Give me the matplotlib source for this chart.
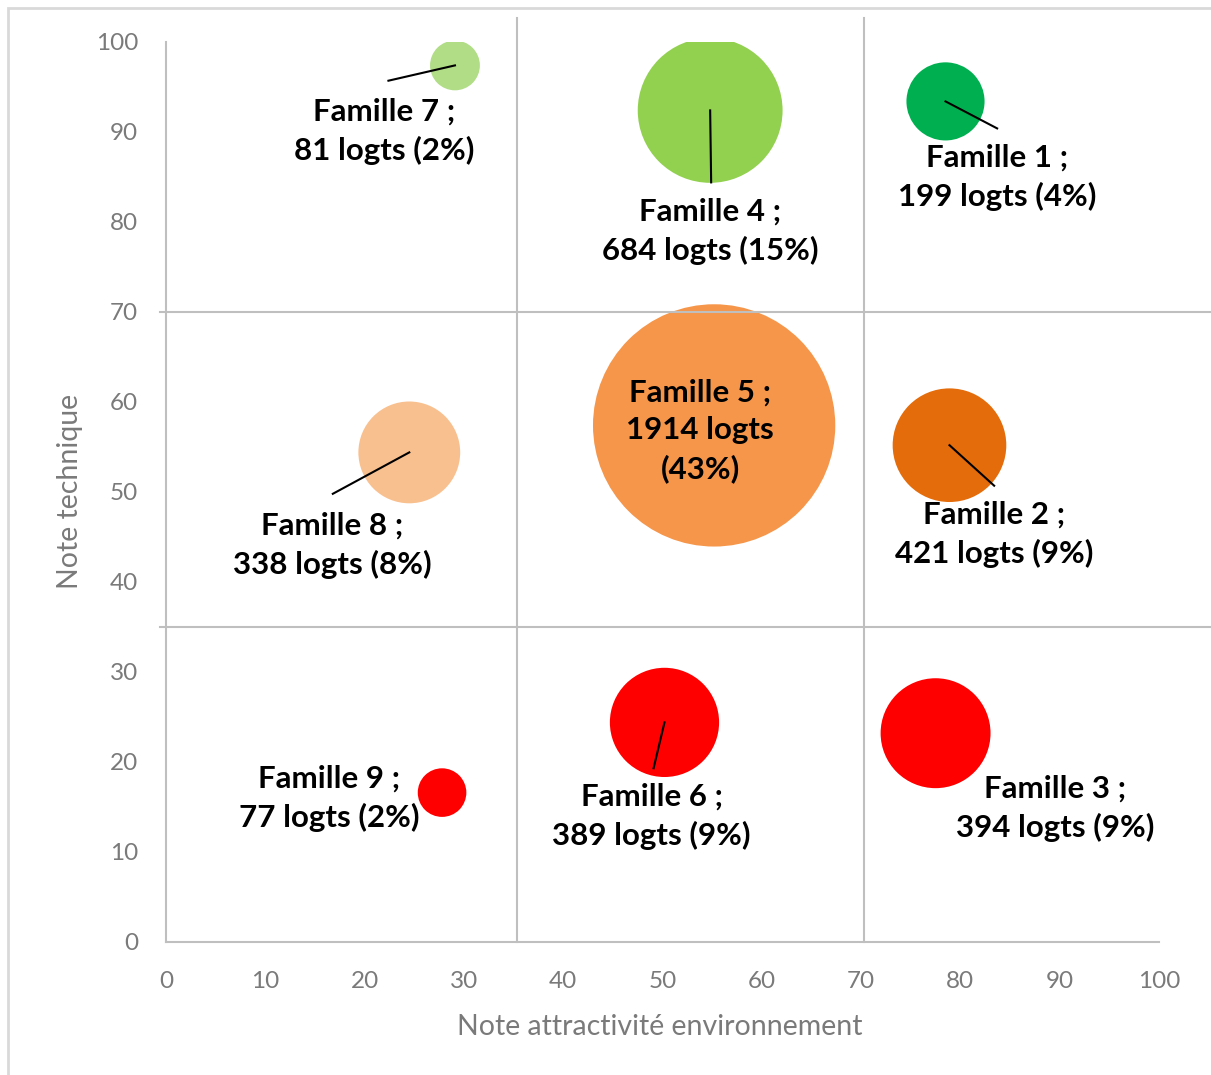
import matplotlib.pyplot as plt
from matplotlib.patches import Rectangle

# Familles de logements : note environnement, note technique, nombre de logements
familles = ["Famille 1", "Famille 2", "Famille 3", "Famille 4", "Famille 5",
            "Famille 6", "Famille 7", "Famille 8", "Famille 9"]
note_env = [78.5, 78.9, 77.5, 54.8, 55.2, 50.2, 29.1, 24.5, 27.8]
note_tech = [93.4, 55.2, 23.2, 92.4, 57.4, 24.4, 97.4, 54.4, 16.6]
logts = [199, 421, 394, 684, 1914, 389, 81, 338, 77]

couleurs = ["#00b050", "#e46c0a", "#ff0000", "#92d050", "#f5964a",
            "#ff0000", "#b0dd86", "#f9c08f", "#ff0000"]

# position des étiquettes (centre du bloc) et bout du trait de rappel
pos_label = [(83.7, 85.0), (83.4, 45.3), (89.5, 14.9), (54.8, 79.0), (53.8, 56.8),
             (48.9, 14.0), (22.0, 90.1), (16.7, 44.1), (16.4, 16.0)]
bout_trait = [(83.7, 90.4), (83.4, 50.7), None, (54.9, 84.4), None,
              (49.1, 19.3), (22.4, 95.7), (16.8, 49.8), None]

seuils = [35.3, 70.3]
gris = "#bfbfbf"
gris_txt = "#7a7a7a"

plt.rcParams['font.family'] = ['Lato', 'DejaVu Sans']

fig = plt.figure(figsize=(12.11, 10.75), dpi=100)
ax = fig.add_axes([166/1211, 133/1075, 993/1211, 900/1075])

total = sum(logts)
# aire des bulles proportionnelle au nombre de logements
ax.scatter(note_env, note_tech, s=[15.9*v for v in logts], c=couleurs,
           linewidths=0, zorder=2)

# quadrillage des seuils
ax.plot([seuils[0]]*2, [0, 102.7], color=gris, lw=1.5, clip_on=False, zorder=3)
ax.plot([seuils[1]]*2, [0, 102.7], color=gris, lw=1.5, clip_on=False, zorder=3)
ax.plot([-0.6, 105.3], [70, 70], color=gris, lw=1.5, clip_on=False, zorder=3)
ax.plot([-0.6, 105.3], [35, 35], color=gris, lw=1.5, clip_on=False, zorder=3)

for i in range(len(familles)):
    pct = round(100*logts[i]/total)
    if i == 4:
        txt = "%s ;\n%d logts\n(%d%%)" % (familles[i], logts[i], pct)
    else:
        txt = "%s ;\n%d logts (%d%%)" % (familles[i], logts[i], pct)
    lx, ly = pos_label[i]
    ax.text(lx, ly, txt, ha='center', va='center', fontsize=22.5, fontweight='bold',
            linespacing=1.42, color='black', zorder=5)
    if bout_trait[i] is not None:
        bx, by = bout_trait[i]
        ax.plot([note_env[i], bx], [note_tech[i], by], color='black', lw=1.5, zorder=4)

ax.set_xlim(0, 100)
ax.set_ylim(0, 100)
ax.set_xticks(range(0, 101, 10))
ax.set_yticks(range(0, 101, 10))
ax.tick_params(length=0, labelsize=17.5, labelcolor=gris_txt)
ax.tick_params(axis='x', pad=21)
ax.tick_params(axis='y', pad=20)
for side in ['top', 'right']:
    ax.spines[side].set_visible(False)
for side in ['left', 'bottom']:
    ax.spines[side].set_color(gris)
    ax.spines[side].set_linewidth(1.5)

ax.set_xlabel("Note attractivité environnement", fontsize=20.5, color=gris_txt)
ax.set_ylabel("Note technique", fontsize=20.5, color=gris_txt)
ax.xaxis.set_label_coords(0.4975, -0.08)
ax.yaxis.set_label_coords(-0.084, 0.501)

# cadre extérieur
fig.patches.append(Rectangle((8/1211, -0.05), 1.1, 1.05 - 8/1075, transform=fig.transFigure,
                             fill=False, edgecolor="#d9d9d9", lw=2))

fig.savefig("out.png", dpi=100)
